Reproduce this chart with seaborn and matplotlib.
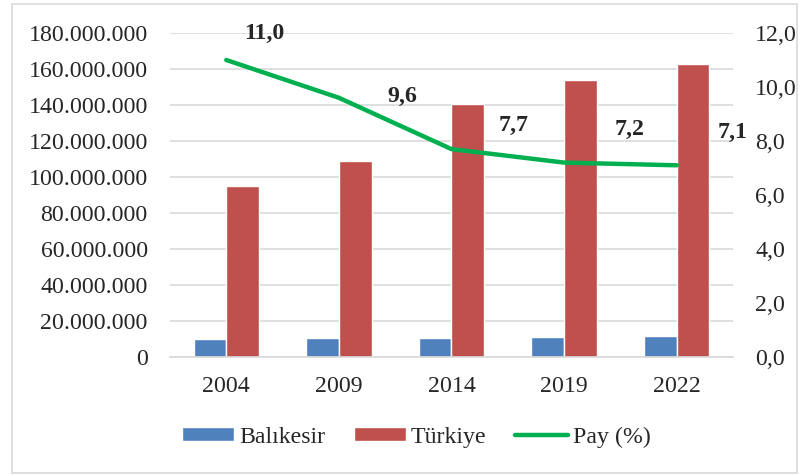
"""
Balıkesir vs Türkiye bar chart with share (%) line on a secondary axis
"""

import matplotlib
matplotlib.use("Agg")
import matplotlib.pyplot as plt
from matplotlib.patches import Rectangle
from matplotlib.ticker import FuncFormatter, MultipleLocator
import numpy as np
import pandas as pd
import seaborn as sns

# Data
years = ["2004", "2009", "2014", "2019", "2022"]
balikesir = [10_200_000, 10_400_000, 10_700_000, 10_900_000, 11_400_000]
turkiye = [94_800_000, 109_000_000, 140_600_000, 153_900_000, 163_000_000]
pay = [11.0, 9.6, 7.7, 7.2, 7.1]
series_names = ["Balıkesir", "Türkiye"]
line_name = "Pay (%)"

# Label offsets (points) to mimic the Excel label placement
label_offsets = [(27, 19), (46, 1), (45, 17), (47, 24), (40, 24)]


def thousands(v, _pos=None):
    return f"{int(round(v)):,}".replace(",", ".")


def one_decimal(v, _pos=None):
    return f"{v:.1f}".replace(".", ",")


def main():
    sns.set_style("white")
    plt.rcParams["font.family"] = ["Liberation Serif", "DejaVu Serif"]
    fs = 17.2

    df = pd.DataFrame({
        "year": years * 2,
        "value": balikesir + turkiye,
        "series": [series_names[0]] * len(years) + [series_names[1]] * len(years),
    })

    fig = plt.figure(figsize=(8.03, 4.76), dpi=100)
    ax = fig.add_axes([0.2117, 0.25, 0.7011, 0.6807])

    sns.barplot(data=df, x="year", y="value", hue="series",
                palette=["#4F81BD", "#C0504D"], width=0.58, gap=0,
                saturation=1, ax=ax, zorder=2)
    handles, labels = ax.get_legend_handles_labels()
    if ax.get_legend() is not None:
        ax.get_legend().remove()

    ax.set_ylim(0, 180_000_000)
    ax.yaxis.set_major_locator(MultipleLocator(20_000_000))
    ax.yaxis.set_major_formatter(FuncFormatter(thousands))
    ax.grid(axis="y", color="#d9d9d9", linewidth=1.2, zorder=0)
    ax.set_axisbelow(True)
    for side in ["top", "right", "left"]:
        ax.spines[side].set_visible(False)
    ax.spines["bottom"].set_color("#d9d9d9")
    ax.spines["bottom"].set_linewidth(1.2)
    ax.tick_params(axis="both", length=0, labelsize=fs)
    ax.tick_params(axis="y", pad=16)
    ax.tick_params(axis="x", pad=14)
    ax.set_xlabel("")
    ax.set_ylabel("")

    # Secondary axis with share line
    ax2 = ax.twinx()
    xpos = np.arange(len(years))
    sns.lineplot(x=xpos, y=pay, color="#00B050", linewidth=3.2,
                 label=line_name, ax=ax2, legend=False)
    ax2.set_ylim(0, 12)
    ax2.yaxis.set_major_locator(MultipleLocator(2))
    ax2.yaxis.set_major_formatter(FuncFormatter(one_decimal))
    ax2.tick_params(axis="y", length=0, labelsize=fs, pad=16)
    for side in ["top", "right", "left", "bottom"]:
        ax2.spines[side].set_visible(False)
    ax2.set_ylabel("")
    ax.set_xlim(-0.5, len(years) - 0.5)

    for x, v, off in zip(xpos, pay, label_offsets):
        ax2.annotate(one_decimal(v), (x, v), xytext=off, textcoords="offset points",
                     ha="center", va="center", fontsize=fs, fontweight="bold")

    h2, l2 = ax2.get_legend_handles_labels()
    fig.legend(handles + h2, labels + l2, loc="center", bbox_to_anchor=(0.518, 0.082),
               ncol=3, frameon=False, fontsize=fs, handlelength=2.2,
               handleheight=0.5, handletextpad=0.2, columnspacing=1.2)

    # Outer chart border
    fig.patches.append(Rectangle((12 / 803, 3 / 476), 785 / 803, 469 / 476,
                                 transform=fig.transFigure, fill=False,
                                 edgecolor="#d9d9d9", linewidth=1.2))

    fig.savefig("out.png", dpi=100)


if __name__ == "__main__":
    main()
